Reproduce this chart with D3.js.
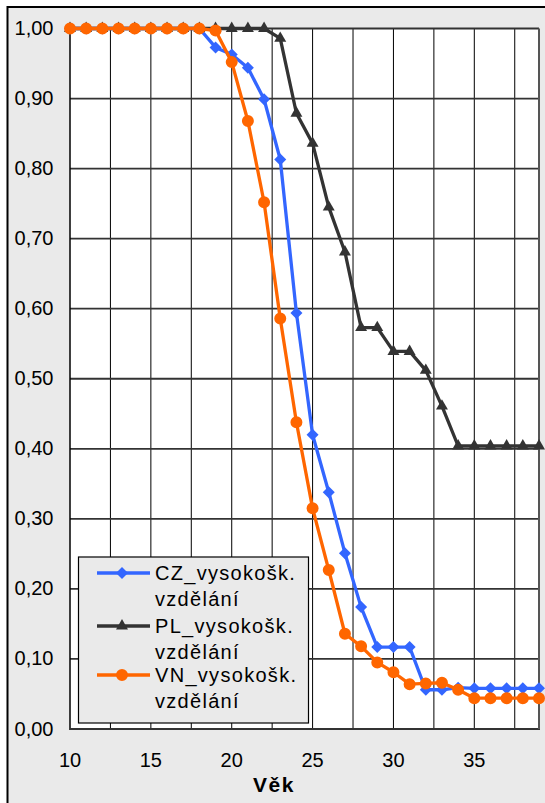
<!DOCTYPE html>
<html><head><meta charset="utf-8">
<script src="https://cdn.jsdelivr.net/npm/d3@7"></script>
<style>html,body{margin:0;padding:0;background:#fff;}svg{display:block;}</style>
</head><body>
<svg id="c" width="545" height="803"></svg>
<script>
const years = [10,11,12,13,14,15,16,17,18,19,20,21,22,23,24,25,26,27,28,29,30,31,32,33,34,35,36,37,38,39];
const czValues = [1,1,1,1,1,1,1,1,1,0.973,0.963,0.944,0.899,0.813,0.594,0.42,0.338,0.251,0.174,0.117,0.117,0.117,0.056,0.056,0.059,0.058,0.058,0.058,0.058,0.058];
const plValues = [1,1,1,1,1,1,1,1,1,1,1,1,1,0.986,0.879,0.836,0.745,0.681,0.573,0.573,0.539,0.539,0.512,0.461,0.404,0.404,0.404,0.404,0.404,0.404];
const vnValues = [1,1,1,1,1,1,1,1,1,0.997,0.952,0.868,0.752,0.586,0.438,0.315,0.227,0.136,0.118,0.095,0.081,0.064,0.065,0.066,0.056,0.044,0.044,0.044,0.044,0.044];
const seriesNames = ["CZ_vysokošk.", "PL_vysokošk.", "VN_vysokošk."];
const seriesSub = "vzdělání";
const xTickLabels = [10,15,20,25,30,35];
const yTickLabels = [0,0.1,0.2,0.3,0.4,0.5,0.6,0.7,0.8,0.9,1.0];
const xGrid = [12.5,15,17.5,20,22.5,25,27.5,30,32.5,35,37.5];
const axisTitle = "Věk";

const svg = d3.select("#c");
const L = 70, R = 539, T = 28.5, B = 729;
const x = d3.scaleLinear().domain([10,39]).range([L,R]);
const y = d3.scaleLinear().domain([0,1]).range([B,T]);
const font = "'Liberation Sans', Arial, sans-serif";

// chart area
svg.append("rect").attr("x",7.5).attr("y",7).attr("width",560).attr("height",820)
  .attr("fill","#eaeaea").attr("stroke","#000").attr("stroke-width",2);

// plot area
svg.append("rect").attr("x",L).attr("y",T).attr("width",R-L).attr("height",B-T).attr("fill","#fff");

// vertical gridlines
svg.append("g").selectAll("line").data(xGrid).join("line")
  .attr("x1",d=>x(d)).attr("x2",d=>x(d)).attr("y1",T).attr("y2",B)
  .attr("stroke","#000").attr("stroke-width",1);
// horizontal gridlines
svg.append("g").selectAll("line").data(yTickLabels.filter(d=>d>0)).join("line")
  .attr("x1",L).attr("x2",R).attr("y1",d=>y(d)).attr("y2",d=>y(d))
  .attr("stroke","#333").attr("stroke-width",1.8);

// axes lines
svg.append("line").attr("x1",L).attr("x2",L).attr("y1",T).attr("y2",B+1).attr("stroke","#000").attr("stroke-width",1.5);
svg.append("line").attr("x1",L).attr("x2",R+1).attr("y1",B).attr("y2",B).attr("stroke","#333").attr("stroke-width",2);
svg.append("line").attr("x1",R).attr("x2",R).attr("y1",T).attr("y2",B).attr("stroke","#555").attr("stroke-width",2);

// y tick labels
const fmt = d => d3.format(".2f")(d).replace(".", ",");
svg.append("g").selectAll("text").data(yTickLabels).join("text")
  .attr("x",53.5).attr("y",d=>y(d)+6.5).attr("text-anchor","end")
  .attr("font-family",font).attr("font-size",20).attr("fill","#000").text(fmt);
// x tick labels
svg.append("g").selectAll("text").data(xTickLabels).join("text")
  .attr("x",d=>x(d)).attr("y",767).attr("text-anchor","middle")
  .attr("font-family",font).attr("font-size",20).attr("fill","#000").text(d=>d);
svg.append("text").attr("x",274).attr("y",792).attr("text-anchor","middle")
  .attr("font-family",font).attr("font-size",21).attr("font-weight","bold")
  .attr("letter-spacing",1.5).text(axisTitle);

const series = [
  {name:seriesNames[0], values:czValues, color:"#3366ff", sym:d3.symbolSquare, size:72, rot:45},
  {name:seriesNames[1], values:plValues, color:"#333333", sym:d3.symbolTriangle, size:62, rot:0},
  {name:seriesNames[2], values:vnValues, color:"#ff6600", sym:d3.symbolCircle, size:113, rot:0}
];
const line = d3.line().x((d,i)=>x(years[i])).y(d=>y(d));
series.forEach(s=>{
  const g = svg.append("g");
  g.append("path").attr("d",line(s.values)).attr("fill","none")
    .attr("stroke",s.color).attr("stroke-width",3.3).attr("stroke-linejoin","round");
  g.selectAll("path.m").data(s.values).join("path").attr("class","m")
    .attr("d",d3.symbol().type(s.sym).size(s.size))
    .attr("transform",(d,i)=>`translate(${x(years[i])},${y(d)}) rotate(${s.rot})`)
    .attr("fill",s.color);
});

// legend
const lg = svg.append("g");
lg.append("rect").attr("x",78.5).attr("y",557).attr("width",230).attr("height",166)
  .attr("fill","#eaeaea").attr("stroke","#000").attr("stroke-width",1.2);
const legY = [573, 626, 675];
series.forEach((s,i)=>{
  const ly = legY[i];
  lg.append("line").attr("x1",97).attr("x2",150).attr("y1",ly).attr("y2",ly)
    .attr("stroke",s.color).attr("stroke-width",3.3);
  lg.append("path").attr("d",d3.symbol().type(s.sym).size(s.size))
    .attr("transform",`translate(122,${ly}) rotate(${s.rot})`).attr("fill",s.color);
  lg.append("text").attr("x",155).attr("y",ly+6.5).attr("font-family",font)
    .attr("font-size",20).attr("letter-spacing",1.3).text(s.name);
  lg.append("text").attr("x",155).attr("y",ly+33).attr("font-family",font)
    .attr("font-size",20).attr("letter-spacing",1.3).text(seriesSub);
});
</script>
</body></html>
